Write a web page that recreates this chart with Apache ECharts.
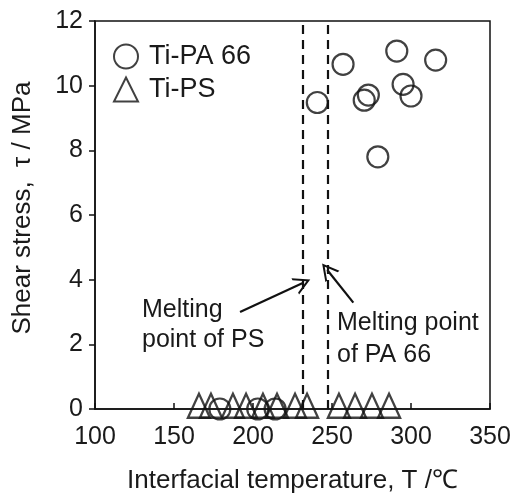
<!DOCTYPE html>
<html><head><meta charset="utf-8">
<script src="https://cdn.jsdelivr.net/npm/echarts@6/dist/echarts.min.js"></script>
<style>html,body{margin:0;padding:0;background:#fff}#c{width:515px;height:496px}</style>
</head><body><div id="c"></div>
<script>
// Ti-PA 66 points [temperature, shear stress]
const paTemp   = [240.7, 257, 270.4, 273, 279, 291, 295, 300, 315.6, 179, 203, 214];
const paStress = [9.48, 10.66, 9.55, 9.71, 7.8, 11.07, 10.04, 9.68, 10.79, 0, 0, 0];
// Ti-PS points
const psTemp   = [165.8, 173.4, 187.3, 195.6, 206.3, 215.2, 226.6, 234.2, 254.4, 264.6, 275.3, 286.1];
const psStress = [0.1, 0.1, 0.1, 0.1, 0.1, 0.1, 0.1, 0.1, 0.1, 0.1, 0.1, 0.1];
// melting points (dashed lines)
const meltPS = 231.5, meltPA = 247;
// arrows [from, to]
const arrowPS = [[191.8, 3.0], [231.5, 3.9]];
const arrowPA = [[263.5, 3.29], [247, 4.3]];
const xTicks = {min: 100, max: 350, interval: 50};
const yTicks = {min: 0, max: 12, interval: 2};

const F = 'Liberation Sans, Arial, sans-serif';
const TXT = '#1a1a1a';
const chevron = 'path://M0,0 L6,11 L4.5,11 L0,2.8 L-4.5,11 L-6,11 Z';

const chart = echarts.init(document.getElementById('c'));
chart.setOption({
  animation: false,
  backgroundColor: '#fff',
  grid: {left: 95, right: 25, top: 21, bottom: 87, outerBoundsMode: 'none', containLabel: false,
         show: true, borderColor: '#111', borderWidth: 1.5, backgroundColor: 'transparent'},
  legend: {
    orient: 'vertical', left: 108, top: 38, itemWidth: 24, itemHeight: 24, itemGap: 6,
    textStyle: {fontFamily: F, fontSize: 27, color: TXT, padding: [0, 0, 0, 6]},
    data: ['Ti-PA 66', 'Ti-PS']
  },
  xAxis: {
    type: 'value', min: xTicks.min, max: xTicks.max, interval: xTicks.interval,
    name: 'Interfacial temperature, T /\u2103', nameLocation: 'middle', nameGap: 59,
    nameTextStyle: {fontFamily: F, fontSize: 26, color: TXT},
    axisLine: {show: true, lineStyle: {color: '#111', width: 1.5}},
    axisTick: {show: true, inside: true, length: 6, lineStyle: {color: '#111', width: 1.5}},
    axisLabel: {fontFamily: F, fontSize: 25, color: TXT, margin: 16},
    splitLine: {show: false}
  },
  yAxis: {
    type: 'value', min: yTicks.min, max: yTicks.max, interval: yTicks.interval,
    name: 'Shear stress,  \u03c4 / MPa', nameLocation: 'middle', nameGap: 59,
    nameTextStyle: {fontFamily: F, fontSize: 26, color: TXT, padding: [0, 0, 0, 14]},
    axisLine: {show: true, lineStyle: {color: '#111', width: 1.5}},
    axisTick: {show: true, inside: false, length: 6, lineStyle: {color: '#111', width: 1.5}},
    axisLabel: {fontFamily: F, fontSize: 25, color: TXT, margin: 12},
    splitLine: {show: false}
  },
  series: [
    {
      name: 'Ti-PA 66', type: 'scatter', symbol: 'circle', symbolSize: 21,
      data: paTemp.map((t, i) => [t, paStress[i]]),
      itemStyle: {color: 'rgba(255,255,255,0)', borderColor: '#111', borderWidth: 2.2},
      emphasis: {disabled: true}, z: 3,
      markLine: {
        silent: true, symbol: ['none', 'none'], label: {show: false},
        lineStyle: {color: '#111', type: [9, 6], width: 2.2},
        data: [{xAxis: meltPS}, {xAxis: meltPA}]
      }
    },
    {
      name: 'Ti-PS', type: 'scatter', symbol: 'triangle', symbolSize: [22, 24],
      data: psTemp.map((t, i) => [t, psStress[i]]),
      itemStyle: {color: 'rgba(255,255,255,0)', borderColor: '#111', borderWidth: 2.4},
      emphasis: {disabled: true}, z: 3,
      markLine: {
        silent: true, symbol: ['none', chevron], symbolSize: [18, 18], symbolKeepAspect: true,
        label: {show: false},
        lineStyle: {color: '#111', type: 'solid', width: 2.2},
        data: [
          [{coord: arrowPS[0]}, {coord: arrowPS[1]}],
          [{coord: arrowPA[0]}, {coord: arrowPA[1]}]
        ]
      }
    }
  ],
  graphic: [
    {type: 'text', left: 142, top: 295, style: {text: 'Melting\npoint of PS', font: '25px ' + F, fill: TXT, lineHeight: 30}},
    {type: 'text', left: 337, top: 307, style: {text: 'Melting point\nof PA 66', font: '25px ' + F, fill: TXT, lineHeight: 32}}
  ]
});
</script></body></html>
